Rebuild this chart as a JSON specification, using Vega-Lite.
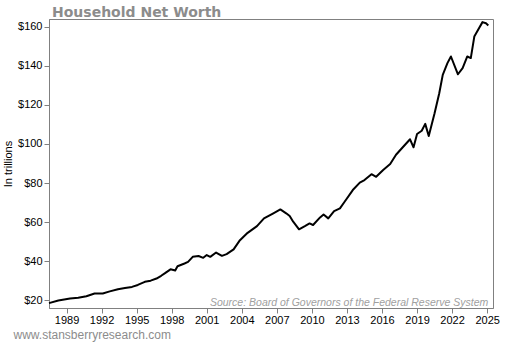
{
  "$schema": "https://vega.github.io/schema/vega-lite/v6.json",
  "width": 444,
  "height": 289,
  "autosize": {"type": "none"},
  "padding": {"left": 49, "top": 19, "right": 17, "bottom": 37},
  "background": "white",
  "title": {
    "text": "Household Net Worth",
    "anchor": "start",
    "frame": "group",
    "font": "DejaVu Sans",
    "fontSize": 14,
    "fontWeight": "bold",
    "color": "#8c8c8c",
    "baseline": "alphabetic",
    "offset": 3,
    "dx": 3,
    "dy": 15
  },
  "config": {
    "view": {"stroke": "#808080", "strokeWidth": 1},
    "axis": {
      "grid": false,
      "domainColor": "#808080",
      "tickColor": "#808080",
      "tickSize": 5,
      "labelFont": "Liberation Sans",
      "labelFontSize": 11,
      "labelColor": "#000000",
      "titleFont": "Liberation Sans",
      "titleFontWeight": "normal",
      "labelOverlap": false
    }
  },
  "datasets": {
    "networth": [
      {"year": 1987.5, "nw": 18.5},
      {"year": 1988.3, "nw": 19.8},
      {"year": 1989.3, "nw": 20.9},
      {"year": 1990.0, "nw": 21.2},
      {"year": 1990.7, "nw": 22.0},
      {"year": 1991.4, "nw": 23.4},
      {"year": 1992.1, "nw": 23.4},
      {"year": 1992.7, "nw": 24.5},
      {"year": 1993.4, "nw": 25.6},
      {"year": 1994.0, "nw": 26.2},
      {"year": 1994.6, "nw": 26.8},
      {"year": 1995.1, "nw": 27.8},
      {"year": 1995.7, "nw": 29.4},
      {"year": 1996.2, "nw": 30.0},
      {"year": 1996.7, "nw": 31.1},
      {"year": 1997.1, "nw": 32.5},
      {"year": 1997.4, "nw": 33.7},
      {"year": 1997.9, "nw": 35.8},
      {"year": 1998.3, "nw": 35.2},
      {"year": 1998.5, "nw": 37.4},
      {"year": 1999.1, "nw": 38.8},
      {"year": 1999.4, "nw": 39.6},
      {"year": 1999.8, "nw": 42.2},
      {"year": 2000.3, "nw": 42.6},
      {"year": 2000.7, "nw": 41.7},
      {"year": 2001.0, "nw": 43.1},
      {"year": 2001.3, "nw": 42.2},
      {"year": 2001.8, "nw": 44.4},
      {"year": 2002.3, "nw": 42.7},
      {"year": 2002.7, "nw": 43.6},
      {"year": 2003.3, "nw": 46.0},
      {"year": 2003.8, "nw": 50.4},
      {"year": 2004.5, "nw": 54.5},
      {"year": 2005.3, "nw": 57.9},
      {"year": 2005.9, "nw": 61.9},
      {"year": 2006.7, "nw": 64.5},
      {"year": 2007.3, "nw": 66.5},
      {"year": 2007.8, "nw": 64.5},
      {"year": 2008.1, "nw": 63.1},
      {"year": 2008.4, "nw": 60.2},
      {"year": 2008.9, "nw": 56.3},
      {"year": 2009.4, "nw": 57.9},
      {"year": 2009.8, "nw": 59.3},
      {"year": 2010.1, "nw": 58.5},
      {"year": 2010.7, "nw": 62.4},
      {"year": 2011.0, "nw": 63.9},
      {"year": 2011.4, "nw": 61.9},
      {"year": 2011.9, "nw": 65.6},
      {"year": 2012.4, "nw": 67.0},
      {"year": 2012.8, "nw": 70.4},
      {"year": 2013.5, "nw": 76.4},
      {"year": 2014.1, "nw": 80.2},
      {"year": 2014.5, "nw": 81.5},
      {"year": 2015.1, "nw": 84.5},
      {"year": 2015.5, "nw": 83.2},
      {"year": 2016.1, "nw": 86.7},
      {"year": 2016.7, "nw": 89.7},
      {"year": 2017.2, "nw": 94.5},
      {"year": 2017.7, "nw": 97.8},
      {"year": 2018.4, "nw": 102.4},
      {"year": 2018.7, "nw": 98.3},
      {"year": 2019.0, "nw": 105.1},
      {"year": 2019.4, "nw": 106.8},
      {"year": 2019.7, "nw": 110.3},
      {"year": 2020.0, "nw": 104.1},
      {"year": 2020.5, "nw": 115.7},
      {"year": 2020.9, "nw": 126.0},
      {"year": 2021.2, "nw": 135.4},
      {"year": 2021.6, "nw": 141.4},
      {"year": 2021.9, "nw": 144.8},
      {"year": 2022.5, "nw": 135.7},
      {"year": 2022.9, "nw": 138.8},
      {"year": 2023.3, "nw": 144.8},
      {"year": 2023.6, "nw": 144.0},
      {"year": 2023.9, "nw": 155.0},
      {"year": 2024.3, "nw": 159.3},
      {"year": 2024.6, "nw": 162.4},
      {"year": 2024.9, "nw": 161.8},
      {"year": 2025.1, "nw": 160.7}
    ],
    "note": [
      {"year": 2025.1, "nw": 16.9, "label": "Source: Board of Governors of the Federal Reserve System"}
    ]
  },
  "layer": [
    {
      "data": {"name": "networth"},
      "mark": {"type": "line", "color": "#000000", "strokeWidth": 2, "strokeJoin": "round"},
      "encoding": {
        "x": {
          "field": "year",
          "type": "quantitative",
          "scale": {"domain": [1987.5, 2025.5], "nice": false, "zero": false},
          "axis": {
            "values": [1989, 1992, 1995, 1998, 2001, 2004, 2007, 2010, 2013, 2016, 2019, 2022, 2025],
            "tickCount": 40,
            "format": "d",
            "labelPadding": 1,
            "labelFlush": false,
            "labelOverlap": false,
            "title": "www.stansberryresearch.com",
            "titleColor": "#8c8c8c",
            "titleFontSize": 12,
            "titleAlign": "left",
            "titleAnchor": "start",
            "titleBaseline": "alphabetic",
            "titleX": -36,
            "titleY": 30
          }
        },
        "y": {
          "field": "nw",
          "type": "quantitative",
          "scale": {"domain": [16, 164], "nice": false, "zero": false},
          "axis": {
            "values": [20, 40, 60, 80, 100, 120, 140, 160],
            "tickCount": 20,
            "format": "$d",
            "labelPadding": 2,
            "title": "In trillions",
            "titleColor": "#000000",
            "titleFontSize": 11,
            "titleAngle": -90,
            "titleAlign": "center",
            "titleBaseline": "alphabetic",
            "titleX": -38,
            "titleY": 144.5
          }
        }
      }
    },
    {
      "data": {"name": "note"},
      "mark": {
        "type": "text",
        "align": "right",
        "baseline": "alphabetic",
        "font": "Liberation Sans",
        "fontStyle": "italic",
        "fontSize": 10.5,
        "color": "#a0a0a0"
      },
      "encoding": {
        "x": {"field": "year", "type": "quantitative"},
        "y": {"field": "nw", "type": "quantitative"},
        "text": {"field": "label"}
      }
    }
  ]
}
